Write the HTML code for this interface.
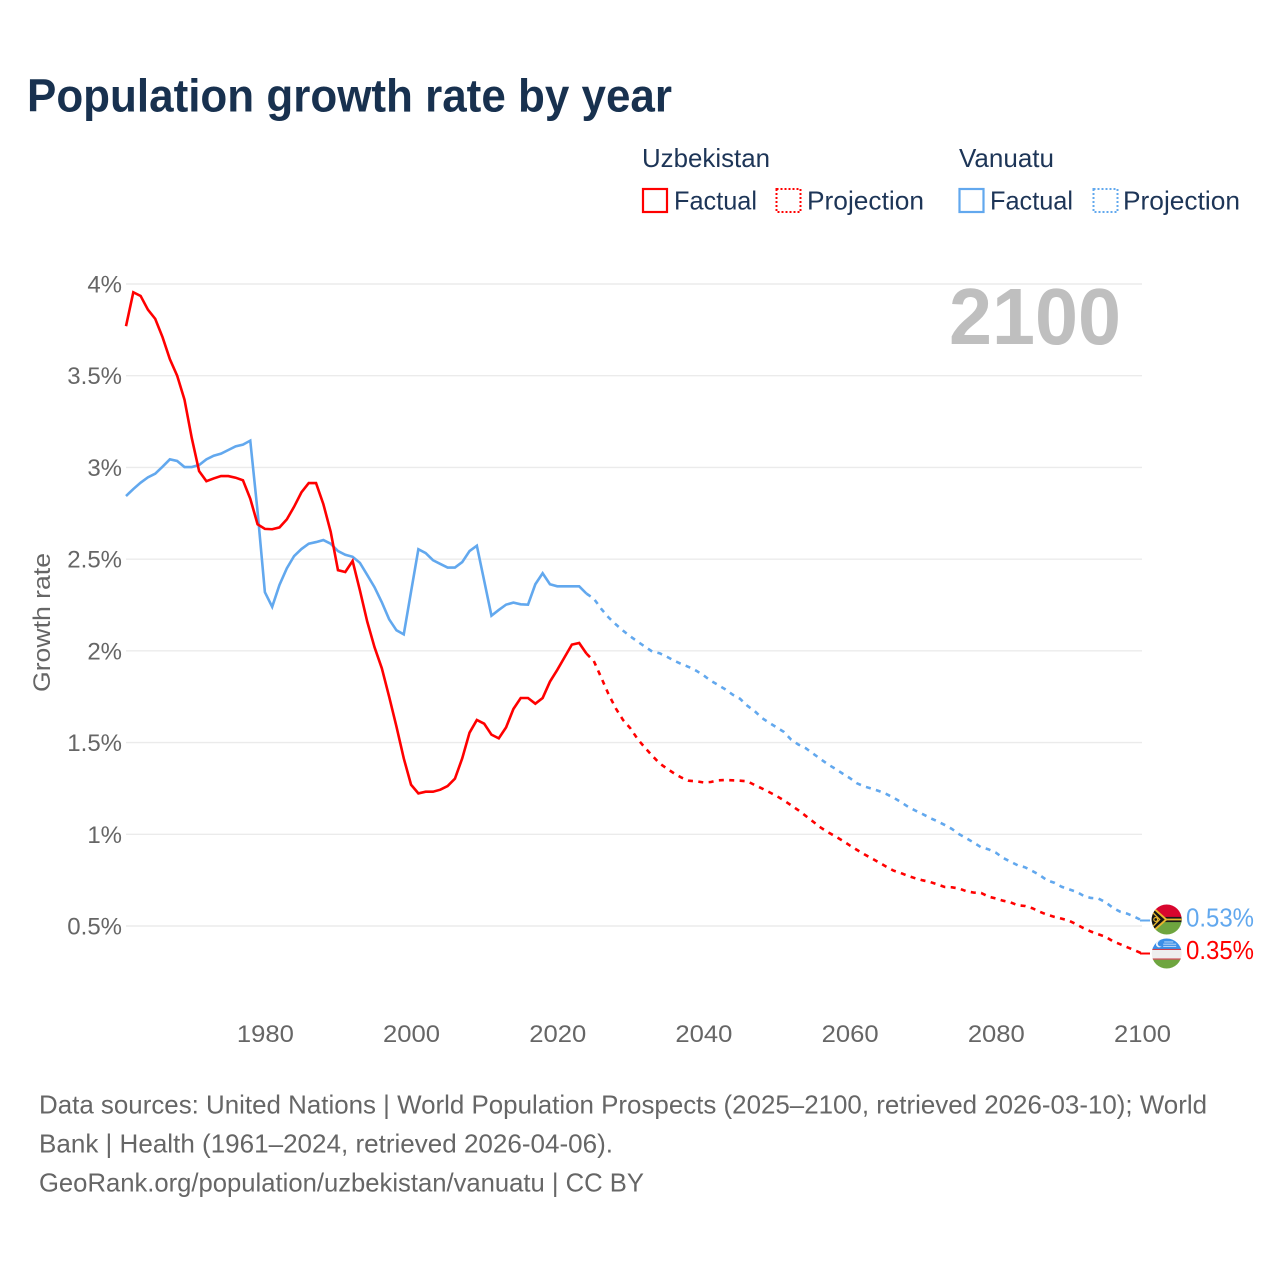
<!DOCTYPE html>
<html lang="en">
<head>
<meta charset="utf-8">
<title>Population growth rate by year</title>
<style>
  html, body { margin: 0; padding: 0; background: #ffffff; }
  body { width: 1280px; height: 1280px; overflow: hidden; }
  svg { display: block; font-family: "Liberation Sans", sans-serif; }
</style>
</head>
<body>
<svg id="chart" width="1280" height="1280" viewBox="0 0 1280 1280" xmlns="http://www.w3.org/2000/svg">
  <defs>
    <clipPath id="flag-clip"><circle cx="0" cy="0" r="15"></circle></clipPath>
  </defs>
  <rect x="0" y="0" width="1280" height="1280" fill="#ffffff"></rect>

  <text x="27" y="111.5" font-size="46" font-weight="700" fill="#18314f" textLength="645" lengthAdjust="spacingAndGlyphs">Population growth rate by year</text>

  <g font-size="26" fill="#1d3557">
    <text x="642" y="167" textLength="128" lengthAdjust="spacingAndGlyphs">Uzbekistan</text>
    <text x="959" y="167" textLength="95" lengthAdjust="spacingAndGlyphs">Vanuatu</text>
    <g>
      <rect x="643" y="189" width="24" height="23" fill="none" stroke="#ff0000" stroke-width="2.2"></rect>
      <text x="674" y="209.5" textLength="83" lengthAdjust="spacingAndGlyphs">Factual</text>
    </g>
    <g>
      <rect x="776.5" y="189" width="24" height="23" fill="none" stroke="#ff0000" stroke-width="2" stroke-dasharray="2 2"></rect>
      <text x="807" y="209.5" textLength="117" lengthAdjust="spacingAndGlyphs">Projection</text>
    </g>
    <g>
      <rect x="959.5" y="189" width="24" height="23" fill="none" stroke="#62a8ee" stroke-width="2.2"></rect>
      <text x="990" y="209.5" textLength="83" lengthAdjust="spacingAndGlyphs">Factual</text>
    </g>
    <g>
      <rect x="1093.5" y="189" width="24" height="23" fill="none" stroke="#62a8ee" stroke-width="2" stroke-dasharray="2 2"></rect>
      <text x="1123" y="209.5" textLength="117" lengthAdjust="spacingAndGlyphs">Projection</text>
    </g>
  </g>

  <g id="grid"></g>
  <g id="y-ticks"></g>
  <g id="x-ticks"></g>

  <text transform="translate(50,622.5) rotate(-90)" text-anchor="middle" font-size="24.5" fill="#666666" textLength="139" lengthAdjust="spacingAndGlyphs">Growth rate</text>

  <text x="949" y="344" font-size="80" font-weight="700" fill="#bfbfbf" textLength="172" lengthAdjust="spacingAndGlyphs">2100</text>

  <g id="series"></g>

  <g id="flag-vanuatu">
    <g clip-path="url(#flag-clip)">
      <rect x="-16" y="-16" width="32" height="16" fill="#d8062e"></rect>
      <rect x="-16" y="0" width="32" height="16" fill="#6ea53f"></rect>
      <rect x="-16" y="-2.6" width="32" height="5.2" fill="#1a1a1a"></rect>
      <rect x="-4" y="-0.9" width="20" height="1.8" fill="#e8b82e"></rect>
      <polygon points="-16,-15 1,0 -16,15" fill="#e8b82e"></polygon>
      <polygon points="-16,-12.5 -2,0 -16,12.5" fill="#141414"></polygon>
      <polyline points="-15,-8 -7,0 -15,8" fill="none" stroke="#e8b82e" stroke-width="1.3"></polyline>
      <circle cx="-11" cy="0" r="1.9" fill="none" stroke="#e8b82e" stroke-width="1.1"></circle>
    </g>
  </g>
  <g id="flag-uzbekistan">
    <g clip-path="url(#flag-clip)">
      <rect x="-16" y="-16" width="32" height="12" fill="#3b8fe8"></rect>
      <rect x="-16" y="-4" width="32" height="10" fill="#eeeeee"></rect>
      <rect x="-16" y="-4.6" width="32" height="1" fill="#c8303f"></rect>
      <rect x="-16" y="5" width="32" height="1.2" fill="#c8303f"></rect>
      <rect x="-16" y="6.2" width="32" height="10" fill="#6ea53f"></rect>
      <circle cx="-7.5" cy="-9.5" r="3.3" fill="#f2f6fb"></circle>
      <circle cx="-6.1" cy="-9.9" r="2.9" fill="#3b8fe8"></circle>
      <rect x="-2.5" y="-12" width="9" height="0.9" fill="#cfe3f8"></rect>
      <rect x="-3.5" y="-9.8" width="13" height="0.9" fill="#cfe3f8"></rect>
      <rect x="-3.5" y="-7.6" width="13" height="0.9" fill="#cfe3f8"></rect>
    </g>
  </g>

  <text id="value-vanuatu" x="1186" font-size="26" fill="#62a8ee" textLength="68" lengthAdjust="spacingAndGlyphs"></text>
  <text id="value-uzbekistan" x="1186" font-size="26" fill="#ff0000" textLength="68" lengthAdjust="spacingAndGlyphs"></text>

  <g font-size="26" fill="#666666">
    <text x="39" y="1113.5" textLength="1168" lengthAdjust="spacingAndGlyphs">Data sources: United Nations | World Population Prospects (2025–2100, retrieved 2026-03-10); World</text>
    <text x="39" y="1152.5" textLength="574" lengthAdjust="spacingAndGlyphs">Bank | Health (1961–2024, retrieved 2026-04-06).</text>
    <text x="39" y="1191.5" textLength="605" lengthAdjust="spacingAndGlyphs">GeoRank.org/population/uzbekistan/vanuatu | CC BY</text>
  </g>
</svg>

<script>
const factualYears = [1961,1962,1963,1964,1965,1966,1967,1968,1969,1970,1971,1972,1973,1974,1975,1976,1977,1978,1979,1980,1981,1982,1983,1984,1985,1986,1987,1988,1989,1990,1991,1992,1993,1994,1995,1996,1997,1998,1999,2000,2001,2002,2003,2004,2005,2006,2007,2008,2009,2010,2011,2012,2013,2014,2015,2016,2017,2018,2019,2020,2021,2022,2023,2024];
const uzbekistanFactual = [3.77,3.955,3.935,3.86,3.81,3.71,3.59,3.50,3.37,3.16,2.98,2.925,2.94,2.953,2.953,2.944,2.93,2.83,2.69,2.665,2.663,2.673,2.717,2.786,2.864,2.915,2.915,2.80,2.65,2.44,2.43,2.49,2.33,2.16,2.02,1.905,1.75,1.587,1.414,1.27,1.223,1.232,1.232,1.243,1.263,1.303,1.414,1.554,1.623,1.603,1.543,1.523,1.583,1.683,1.743,1.743,1.712,1.743,1.832,1.896,1.965,2.034,2.043,1.985];
const vanuatuFactual = [2.844,2.882,2.917,2.946,2.966,3.004,3.044,3.035,3.002,3.002,3.013,3.044,3.064,3.075,3.095,3.115,3.124,3.146,2.76,2.32,2.24,2.36,2.45,2.517,2.555,2.584,2.593,2.604,2.584,2.544,2.524,2.513,2.48,2.414,2.347,2.265,2.172,2.112,2.09,2.323,2.554,2.533,2.494,2.474,2.454,2.454,2.484,2.544,2.573,2.383,2.192,2.223,2.252,2.263,2.254,2.252,2.363,2.423,2.363,2.352,2.352,2.352,2.352,2.312];

const projectionYears = [2024,2025,2026,2027,2028,2029,2030,2031,2032,2033,2034,2035,2036,2037,2038,2039,2040,2041,2042,2043,2044,2045,2046,2047,2048,2049,2050,2051,2052,2053,2054,2055,2056,2057,2058,2059,2060,2061,2062,2063,2064,2065,2066,2067,2068,2069,2070,2071,2072,2073,2074,2075,2076,2077,2078,2079,2080,2081,2082,2083,2084,2085,2086,2087,2088,2089,2090,2091,2092,2093,2094,2095,2096,2097,2098,2099,2100];
const uzbekistanProjection = [1.985,1.945,1.856,1.765,1.687,1.623,1.578,1.519,1.472,1.428,1.387,1.358,1.332,1.309,1.292,1.289,1.283,1.285,1.294,1.296,1.294,1.292,1.289,1.269,1.25,1.23,1.209,1.185,1.158,1.131,1.1,1.069,1.038,1.012,0.99,0.966,0.94,0.915,0.891,0.869,0.847,0.824,0.802,0.789,0.773,0.76,0.749,0.74,0.727,0.713,0.711,0.704,0.689,0.682,0.68,0.66,0.65,0.638,0.629,0.613,0.609,0.597,0.578,0.562,0.55,0.54,0.529,0.51,0.488,0.47,0.455,0.442,0.417,0.401,0.384,0.368,0.35];
const vanuatuProjection = [2.312,2.285,2.23,2.183,2.145,2.11,2.079,2.05,2.023,1.996,1.987,1.968,1.946,1.928,1.912,1.892,1.867,1.837,1.814,1.79,1.761,1.739,1.701,1.672,1.634,1.608,1.583,1.558,1.516,1.489,1.469,1.44,1.411,1.382,1.358,1.332,1.307,1.278,1.261,1.249,1.236,1.22,1.2,1.176,1.15,1.129,1.11,1.089,1.071,1.051,1.029,1.0,0.978,0.954,0.929,0.918,0.9,0.871,0.851,0.831,0.82,0.8,0.778,0.749,0.736,0.714,0.7,0.687,0.665,0.653,0.65,0.63,0.6,0.578,0.567,0.55,0.53];

const yTickValues = [4,3.5,3,2.5,2,1.5,1,0.5];
const xTickYears = [1980,2000,2020,2040,2060,2080,2100];

const NS = 'http://www.w3.org/2000/svg';
const plotLeft = 126, plotRight = 1142, plotTop = 284, plotBottom = 926;
function xScale(year) { return plotLeft + (year - 1961) * (plotRight - plotLeft) / (2100 - 1961); }
function yScale(v) { return plotTop + (4 - v) * (plotBottom - plotTop) / (4 - 0.5); }
function make(tag, parent) {
  const el = document.createElementNS(NS, tag);
  parent.appendChild(el);
  return el;
}

const gridGroup = document.getElementById('grid');
const yTickGroup = document.getElementById('y-ticks');
yTickValues.forEach(function (v) {
  const line = make('line', gridGroup);
  
  
  line.setAttribute('x1', plotLeft);
  line.setAttribute('x2', plotRight);
  line.setAttribute('y1', yScale(v));
  line.setAttribute('y2', yScale(v));
  line.setAttribute('stroke', '#ebebeb');
  line.setAttribute('stroke-width', '1.4');

  const label = make('text', yTickGroup);
  
  
  label.setAttribute('x', plotLeft - 4);
  label.setAttribute('y', yScale(v) + 8.5);
  label.setAttribute('text-anchor', 'end');
  label.setAttribute('font-size', '24');
  label.setAttribute('fill', '#666666');
  label.textContent = v + '%';
});

const xTickGroup = document.getElementById('x-ticks');
xTickYears.forEach(function (year) {
  const label = make('text', xTickGroup);
  
  
  label.setAttribute('x', xScale(year) + 0.5);
  label.setAttribute('y', 1042);
  label.setAttribute('text-anchor', 'middle');
  label.setAttribute('font-size', '24.5');
  label.setAttribute('fill', '#666666');
  label.setAttribute('textLength', '57');
  label.setAttribute('lengthAdjust', 'spacingAndGlyphs');
  label.textContent = year;
});

function pointsFor(years, values) {
  return years.map(function (year, i) { return xScale(year).toFixed(2) + ',' + yScale(values[i]).toFixed(2); });
}

const seriesGroup = document.getElementById('series');

const vanuatuFactualLine = make('polyline', seriesGroup);


vanuatuFactualLine.setAttribute('points', pointsFor(factualYears, vanuatuFactual).join(' '));
vanuatuFactualLine.setAttribute('fill', 'none');
vanuatuFactualLine.setAttribute('stroke', '#62a8ee');
vanuatuFactualLine.setAttribute('stroke-width', '2.6');
vanuatuFactualLine.setAttribute('stroke-linejoin', 'miter');

const uzbekistanFactualLine = make('polyline', seriesGroup);


uzbekistanFactualLine.setAttribute('points', pointsFor(factualYears, uzbekistanFactual).join(' '));
uzbekistanFactualLine.setAttribute('fill', 'none');
uzbekistanFactualLine.setAttribute('stroke', '#ff0000');
uzbekistanFactualLine.setAttribute('stroke-width', '2.6');
uzbekistanFactualLine.setAttribute('stroke-linejoin', 'miter');

const lastX = xScale(2100);
const leaderLength = 8;

const vanuatuProjectionLine = make('polyline', seriesGroup);


vanuatuProjectionLine.setAttribute('points', pointsFor(projectionYears, vanuatuProjection).join(' '));
vanuatuProjectionLine.setAttribute('fill', 'none');
vanuatuProjectionLine.setAttribute('stroke', '#62a8ee');
vanuatuProjectionLine.setAttribute('stroke-width', '2.6');
vanuatuProjectionLine.setAttribute('stroke-dasharray', '5 5.4');

const uzbekistanProjectionLine = make('polyline', seriesGroup);


uzbekistanProjectionLine.setAttribute('points', pointsFor(projectionYears, uzbekistanProjection).join(' '));
uzbekistanProjectionLine.setAttribute('fill', 'none');
uzbekistanProjectionLine.setAttribute('stroke', '#ff0000');
uzbekistanProjectionLine.setAttribute('stroke-width', '2.6');
uzbekistanProjectionLine.setAttribute('stroke-dasharray', '5 5.4');

const vanuatuLast = vanuatuProjection[vanuatuProjection.length - 1];
const uzbekistanLast = uzbekistanProjection[uzbekistanProjection.length - 1];

const vanuatuLeader = make('line', seriesGroup);


vanuatuLeader.setAttribute('x1', lastX - 2);
vanuatuLeader.setAttribute('x2', lastX + leaderLength);
vanuatuLeader.setAttribute('y1', yScale(vanuatuLast));
vanuatuLeader.setAttribute('y2', yScale(vanuatuLast));
vanuatuLeader.setAttribute('stroke', '#62a8ee');
vanuatuLeader.setAttribute('stroke-width', '2');

const uzbekistanLeader = make('line', seriesGroup);


uzbekistanLeader.setAttribute('x1', lastX - 2);
uzbekistanLeader.setAttribute('x2', lastX + leaderLength);
uzbekistanLeader.setAttribute('y1', yScale(uzbekistanLast));
uzbekistanLeader.setAttribute('y2', yScale(uzbekistanLast));
uzbekistanLeader.setAttribute('stroke', '#ff0000');
uzbekistanLeader.setAttribute('stroke-width', '2');

const flagOffset = 24.7;
document.getElementById('flag-vanuatu').setAttribute('transform', 'translate(' + (lastX + flagOffset) + ',' + (yScale(vanuatuLast) - 1) + ')');
document.getElementById('flag-uzbekistan').setAttribute('transform', 'translate(' + (lastX + flagOffset) + ',' + yScale(uzbekistanLast) + ')');

const vanuatuValue = document.getElementById('value-vanuatu');
vanuatuValue.setAttribute('y', yScale(vanuatuLast) + 6);
vanuatuValue.textContent = vanuatuLast.toFixed(2) + '%';

const uzbekistanValue = document.getElementById('value-uzbekistan');
uzbekistanValue.setAttribute('y', yScale(uzbekistanLast) + 5.5);
uzbekistanValue.textContent = uzbekistanLast.toFixed(2) + '%';
</script>
</body>
</html>
